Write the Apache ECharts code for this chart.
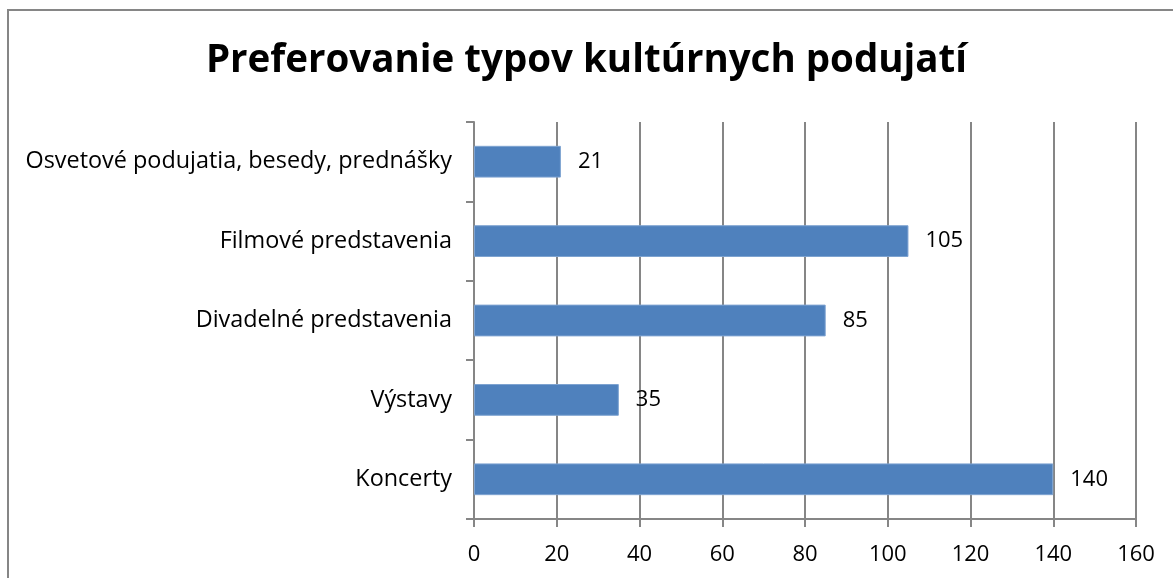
<!DOCTYPE html>
<html>
<head>
<meta charset="utf-8">
<script src="https://cdn.jsdelivr.net/npm/echarts@6/dist/echarts.min.js"></script>
<style>
  html, body { margin: 0; padding: 0; background: #fff; }
  #frame {
    position: absolute; left: 7px; top: 9px; width: 1180px; height: 600px;
    border: 2px solid #868686; box-sizing: border-box;
  }
  #chart { position: absolute; left: 0; top: 0; width: 1173px; height: 578px; }
</style>
</head>
<body>
<div id="frame"></div>
<div id="chart"></div>
<script>
// hodnoty z grafu (odspodu nahor)
var categories = ['Koncerty', 'Výstavy', 'Divadelné predstavenia', 'Filmové predstavenia', 'Osvetové podujatia, besedy, prednášky']
var values = [140, 35, 85, 105, 21]
var xTicks = [0, 20, 40, 60, 80, 100, 120, 140, 160]

var font = '"Open Sans", sans-serif'
var chart = echarts.init(document.getElementById('chart'))
chart.setOption({
  animation: false,
  title: {
    text: 'Preferovanie typov kultúrnych podujatí',
    left: 'center',
    top: 37,
    textStyle: { fontFamily: font, fontWeight: 'bold', fontSize: 38.5, color: '#000' }
  },
  grid: { left: 474, right: 37, top: 122, bottom: 59 },
  xAxis: {
    type: 'value',
    min: xTicks[0],
    max: xTicks[xTicks.length - 1],
    interval: 20,
    axisLine: { show: true, lineStyle: { color: '#868686', width: 2 } },
    axisTick: { show: true, length: 8, lineStyle: { color: '#868686', width: 2 } },
    axisLabel: { fontFamily: font, fontSize: 22, color: '#000', margin: 25 },
    splitLine: { show: true, lineStyle: { color: '#868686', width: 2 } }
  },
  yAxis: {
    type: 'category',
    data: categories,
    axisLine: { show: true, lineStyle: { color: '#868686', width: 2 } },
    axisTick: { show: true, length: 8, lineStyle: { color: '#868686', width: 2 } },
    axisLabel: { fontFamily: font, fontSize: 23.4, color: '#000', margin: 22 }
  },
  series: [{
    type: 'bar',
    data: values,
    barWidth: '40%',
    itemStyle: { color: '#4F81BD', borderColor: '#7EA3D1', borderWidth: 1 },
    label: {
      show: true,
      position: 'right',
      distance: 17,
      fontFamily: font,
      fontSize: 22,
      color: '#000'
    }
  }]
})
</script>
</body>
</html>
